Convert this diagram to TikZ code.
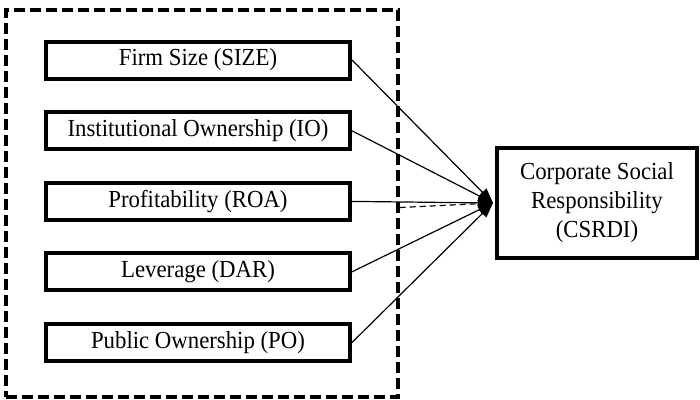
\documentclass[tikz,border=0pt]{standalone}
\usepackage{fontspec}
\setmainfont{Liberation Serif}[FakeStretch=0.93]
\usetikzlibrary{arrows.meta}
\begin{document}
\begin{tikzpicture}[x=1pt,y=-1pt,
  varbox/.style={draw, line width=4pt, minimum width=304pt, minimum height=37pt,
    inner sep=0pt, font=\fontsize{24.5}{28}\selectfont},
  groupbox/.style={draw, line width=3.4pt, dash pattern=on 11pt off 5pt,
    minimum width=392pt, minimum height=387pt, inner sep=0pt},
  outcome/.style={draw, line width=4pt, minimum width=200pt, minimum height=110pt,
    inner sep=0pt, align=center, font=\fontsize{24.5}{29}\selectfont},
  link/.style={line width=1.2pt, -{Triangle[length=15pt,width=11pt]}},
  dashlink/.style={line width=1.2pt, dash pattern=on 6pt off 4pt}]
\useasboundingbox (0,0) rectangle (700,399);

% group of explanatory variables
\node[groupbox] (group) at (202,203.5) {};

\node[varbox] (v1) at (198,60)    {Firm Size (SIZE)};
\node[varbox] (v2) at (198,130.8) {Institutional Ownership (IO)};
\node[varbox] (v3) at (198,201.4) {Profitability (ROA)};
\node[varbox] (v4) at (198,271.8) {Leverage (DAR)};
\node[varbox] (v5) at (198,342.5) {Public Ownership (PO)};

% dependent variable
\node[outcome] (csr) at (597,203) {Corporate Social\\Responsibility\\(CSRDI)};
\coordinate (tip) at ([xshift=-2pt]csr.west);

\draw[dashlink] ([yshift=-4pt]group.east) -- (tip);
\foreach \v in {v1,v2,v3,v4,v5}
  \draw[link] (\v.east) -- (tip);
\end{tikzpicture}
\end{document}
